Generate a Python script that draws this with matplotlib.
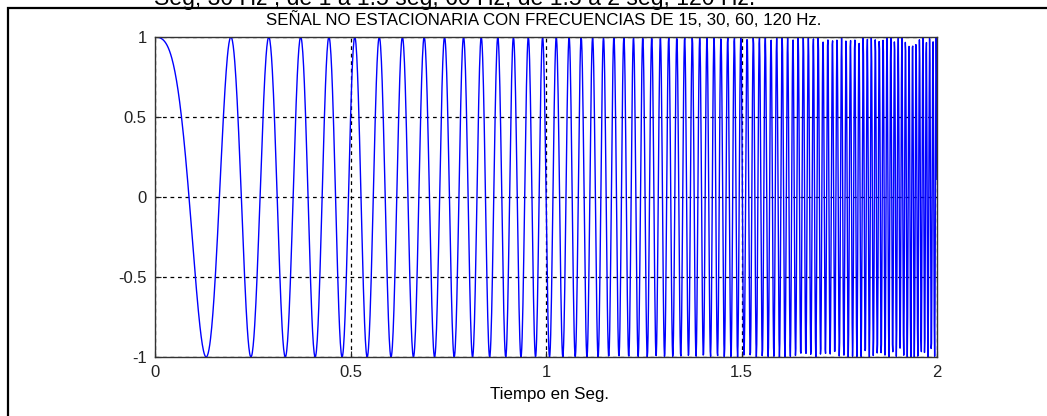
import matplotlib
matplotlib.use("Agg")
import matplotlib.pyplot as plt
import numpy as np
from matplotlib.patches import Rectangle

# instantaneous frequency (Hz) at a few times (s)
t_knots = [0.0, 0.16, 0.24, 0.33, 0.41, 0.48, 0.57, 0.69, 0.79, 0.88, 0.96, 1.01, 1.25, 1.5, 1.75, 2.0]
f_knots = [1.0, 7.9, 10.4, 12.2, 13.9, 15.2, 16.3, 18.5, 21.3, 24.5, 27.0, 28.5, 43.0, 61.0, 86.0, 120.0]

fs = 1000
xticks = [0, 0.5, 1, 1.5, 2]
xticklabels = ["0", "0.5", "1", "1.5", "2"]
yticks = [-1, -0.5, 0, 0.5, 1]
yticklabels = ["-1", "-0.5", "0", "0.5", "1"]

title = "SEÑAL NO ESTACIONARIA CON FRECUENCIAS DE 15, 30, 60, 120 Hz."
header = "Seg; 30 Hz , de 1 a 1.5 seg, 60 Hz, de 1.5 a 2 seg, 120 Hz."
xlabel = "Tiempo en Seg."

# signal: cosine whose phase follows the read frequencies
t = np.arange(0, 2 + 1 / fs / 2, 1 / fs)
f = np.interp(t, t_knots, f_knots)
phase = 2 * np.pi * np.concatenate([[0], np.cumsum((f[1:] + f[:-1]) / 2 / fs)])
x = np.cos(phase)

plt.rcParams['font.family'] = ['Liberation Sans', 'DejaVu Sans']

W, H = 1047, 416
fig = plt.figure(figsize=(W / 100, H / 100), dpi=100)
ax = fig.add_axes([155 / W, 1 - 357 / H, (937 - 155) / W, (357 - 37) / H])

ax.plot(t, x, color='#0000ff', linewidth=1.0)

ax.set_xlim(0, 2)
ax.set_ylim(-1, 1)
ax.set_xticks(xticks)
ax.set_xticklabels(xticklabels)
ax.set_yticks(yticks)
ax.set_yticklabels(yticklabels)
ax.tick_params(direction='in', length=4, labelsize=12, pad=6, colors='#222222')
ax.grid(True, color='black', linestyle=(0, (3, 3)), linewidth=0.9)
for s in ax.spines.values():
    s.set_color('#333333')
    s.set_linewidth(1.0)

fig.text(544 / W, 1 - 20 / H, title, ha='center', va='center', fontsize=12.2)
fig.text(550 / W, 1 - 395 / H, xlabel, ha='center', va='center', fontsize=12.2)
fig.text(455 / W, 1 - 5 / H, header, ha='center', va='baseline', fontsize=16.6)

# outer frame of the page
fig.patches.append(Rectangle((8 / W, -0.05), 1.1, 1 - 7.5 / H + 0.05,
                             transform=fig.transFigure, fill=False,
                             edgecolor='black', linewidth=1.6))

plt.savefig('out.png', dpi=100)
